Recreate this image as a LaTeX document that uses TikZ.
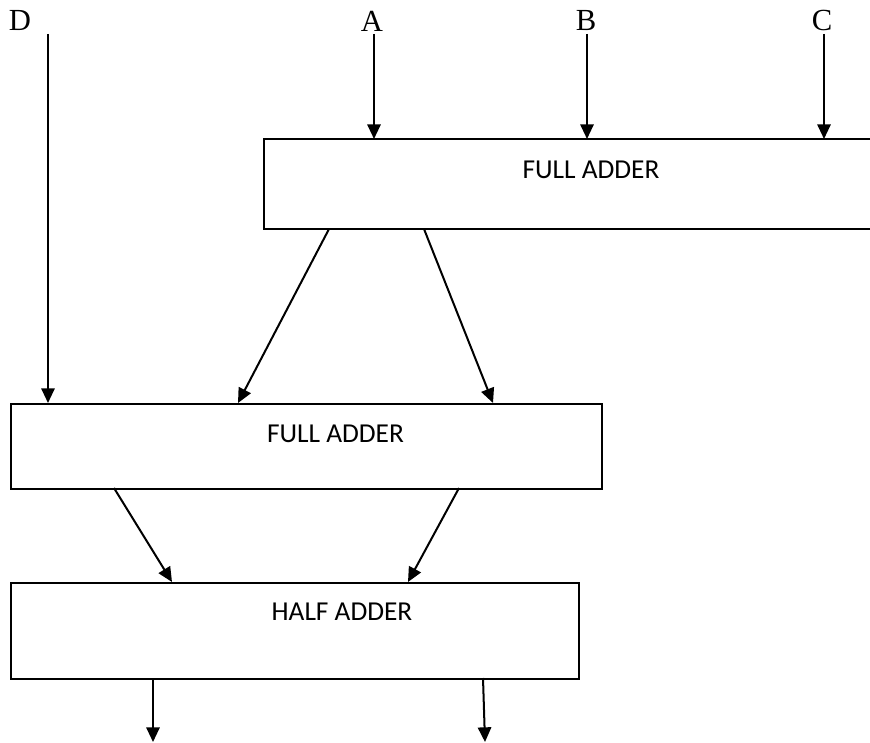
\documentclass[tikz,border=0pt]{standalone}
\usepackage{fontspec}
\setmainfont{Liberation Serif}
\newfontfamily\boxfont{Carlito}
\usetikzlibrary{arrows.meta}
\begin{document}
\begin{tikzpicture}[x=0.75pt,y=-0.75pt,
  blk/.style={draw,line width=1.5pt,rectangle,inner sep=0pt},
  blklabel/.style={font=\boxfont\fontsize{20.5}{22}\selectfont,inner sep=0pt},
  inlabel/.style={font=\fontsize{23}{26}\selectfont,inner sep=0pt},
  arr/.style={line width=1.5pt,-{Triangle[length=11pt,width=10pt]}}]
\useasboundingbox (0,0) rectangle (870,742);
\clip (0,0) rectangle (870,742);

% adder blocks
\draw[blk] (264,139) rectangle (880,229);
\node[blk,minimum width=591*0.75pt,minimum height=85*0.75pt,anchor=north west] (fa2) at (10,403) {};
\node[blk,minimum width=568*0.75pt,minimum height=96*0.75pt,anchor=north west] (ha) at (10,582) {};
\node[rectangle,inner sep=0pt,minimum width=616*0.75pt,minimum height=90*0.75pt,anchor=north west] (fa1) at (264,139) {};

\node[blklabel] (t1) at (591,169.5) {FULL ADDER};
\node[blklabel] (t2) at (335.5,433.5) {FULL ADDER};
\node[blklabel] (t3) at (342,611.5) {HALF ADDER};

% inputs
\node[inlabel] (D) at (20,20) {D};
\node[inlabel] (A) at (372,21) {A};
\node[inlabel] (B) at (586,20.5) {B};
\node[inlabel] (C) at (822,20) {C};

\coordinate (din) at (48,34);
\coordinate (ain) at (374,34);
\coordinate (bin) at (587,34);
\coordinate (cin) at (824,34);

\draw[arr] (din) -- (din |- fa2.north);
\draw[arr] (ain) -- (ain |- fa1.north);
\draw[arr] (bin) -- (bin |- fa1.north);
\draw[arr] (cin) -- (cin |- fa1.north);

% first full adder to second
\coordinate (s1) at (329,229);
\coordinate (c1) at (424,229);
\coordinate (s1e) at (238,403);
\coordinate (c1e) at (493,403);
\draw[arr] (s1) -- (s1e);
\draw[arr] (c1) -- (c1e);

% second full adder to half adder
\coordinate (s2) at (114,488);
\coordinate (c2) at (459,488);
\coordinate (s2e) at (172,582);
\coordinate (c2e) at (408,582);
\draw[arr] (s2) -- (s2e);
\draw[arr] (c2) -- (c2e);

% outputs
\coordinate (o1) at (153,678);
\coordinate (o2) at (483,678);
\coordinate (o1e) at (153,742);
\coordinate (o2e) at (485,742);
\draw[arr] (o1) -- (o1e);
\draw[arr] (o2) -- (o2e);
\end{tikzpicture}
\end{document}
